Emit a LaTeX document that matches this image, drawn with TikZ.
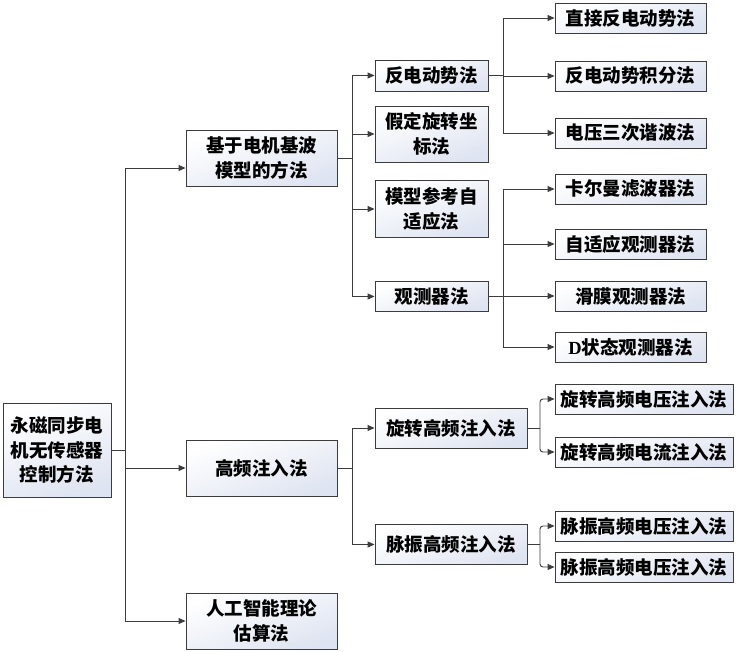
\documentclass[tikz,border=0pt]{standalone}
\usepackage{fontspec}
\newfontfamily\cjk{Noto Sans CJK SC}
\newfontfamily\dfont{Liberation Serif}
\usetikzlibrary{arrows.meta}
\definecolor{linec}{RGB}{60,60,60}
\definecolor{boxb}{RGB}{222,228,241}
\begin{document}
\begin{tikzpicture}[x=1pt,y=-1pt,
  box/.style={draw=linec, line width=0.9pt, top color=white, bottom color=boxb, shading angle=20,
    inner sep=0pt, align=center, font=\cjk\bfseries\fontsize{18.5}{24.5}\selectfont},
  ln/.style={draw=linec, line width=0.9pt},
  arr/.style={ln, -{Triangle[length=7pt,width=6pt]}}]
\useasboundingbox (0,0) rectangle (736,651);
% level 0
\node[box, minimum width=108pt, minimum height=94pt] (root) at (57,450) {永磁同步电\\机无传感器\\控制方法};
% level 1
\node[box, minimum width=151pt, minimum height=56pt] (a) at (261.5,158) {基于电机基波\\模型的方法};
\node[box, minimum width=151pt, minimum height=56pt] (b) at (261.5,468) {高频注入法};
\node[box, minimum width=151pt, minimum height=56pt] (c) at (261.5,621) {人工智能理论\\估算法};
% level 2
\node[box, minimum width=113pt, minimum height=31pt] (a1) at (431.5,75.5) {反电动势法};
\node[box, minimum width=113pt, minimum height=56pt] (a2) at (431.5,134) {假定旋转坐\\标法};
\node[box, minimum width=113pt, minimum height=57pt] (a3) at (431.5,209) {模型参考自\\适应法};
\node[box, minimum width=113pt, minimum height=30pt] (a4) at (431.5,296.5) {观测器法};
\node[box, minimum width=152pt, minimum height=40pt] (b1) at (451,428) {旋转高频注入法};
\node[box, minimum width=152pt, minimum height=40pt] (b2) at (451,544.5) {脉振高频注入法};
% level 3
\node[box, minimum width=151pt, minimum height=30pt] (a11) at (630.5,18) {直接反电动势法};
\node[box, minimum width=151pt, minimum height=30pt] (a12) at (630.5,76) {反电动势积分法};
\node[box, minimum width=151pt, minimum height=30pt] (a13) at (630.5,133) {电压三次谐波法};
\node[box, minimum width=151pt, minimum height=30pt] (a41) at (630.5,189) {卡尔曼滤波器法};
\node[box, minimum width=151pt, minimum height=30pt] (a42) at (630.5,244) {自适应观测器法};
\node[box, minimum width=151pt, minimum height=30pt] (a43) at (630.5,296) {滑膜观测器法};
\node[box, minimum width=151pt, minimum height=30pt] (a44) at (630.5,347) {{\dfont\bfseries D}状态观测器法};
\node[box, minimum width=178pt, minimum height=30pt] (b11) at (644,399) {旋转高频电压注入法};
\node[box, minimum width=178pt, minimum height=30pt] (b12) at (644,452) {旋转高频电流注入法};
\node[box, minimum width=178pt, minimum height=30pt] (b21) at (644,526) {脉振高频电压注入法};
\node[box, minimum width=178pt, minimum height=30pt] (b22) at (644,567) {脉振高频电压注入法};
% junctions
\coordinate (j0) at (125,450);
\coordinate (ja) at (352,158);
\coordinate (jb) at (352,468);
\coordinate (ja1) at (503,75.5);
\coordinate (ja4) at (503,296.5);
\coordinate (jb1) at (540,428);
\coordinate (jb2) at (540,544.5);
% connectors
\draw[ln] (root.east) -- (j0);
\draw[arr] (j0) |- ([yshift=-10pt]a.west);
\draw[arr] (j0) |- (b.west);
\draw[arr] (j0) |- (c.west);
\draw[ln] (a.east) -- (ja);
\foreach \n in {a1,a2,a3,a4} \draw[arr] (ja) |- (\n.west);
\draw[ln] (b.east) -- (jb);
\foreach \n in {b1,b2} \draw[arr] (jb) |- (\n.west);
\draw[ln] (a1.east) -- (ja1);
\foreach \n in {a11,a12,a13} \draw[arr] (ja1) |- (\n.west);
\draw[ln] (a4.east) -- (ja4);
\foreach \n in {a41,a42,a43,a44} \draw[arr] (ja4) |- (\n.west);
\draw[ln] (b1.east) -- (jb1);
\foreach \n in {b11,b12} \draw[arr, rounded corners=3pt] (jb1) |- (\n.west);
\draw[ln] (b2.east) -- (jb2);
\foreach \n in {b21,b22} \draw[arr, rounded corners=3pt] (jb2) |- (\n.west);
\end{tikzpicture}
\end{document}
